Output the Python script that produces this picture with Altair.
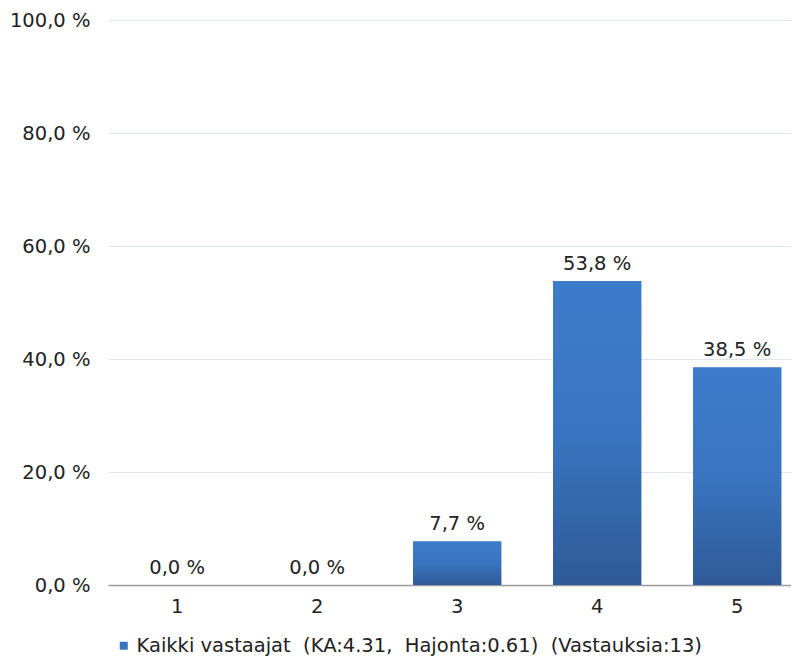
import altair as alt
import pandas as pd

categories = ["1", "2", "3", "4", "5"]
values = [0.0, 0.0, 7.7, 53.8, 38.5]
labels = ["0,0 %", "0,0 %", "7,7 %", "53,8 %", "38,5 %"]
series_name = "Kaikki vastaajat\u00a0\u00a0(KA:4.31,\u00a0\u00a0Hajonta:0.61)\u00a0\u00a0(Vastauksia:13)"
y_ticks = [0, 20, 40, 60, 80, 100]

df = pd.DataFrame({"cat": categories, "val": values, "lab": labels, "series": [series_name] * 5})

FONT = "DejaVu Sans"
FS = 19.5
TXT = "#222222"

x = alt.X("cat:N", sort=categories, title=None,
          scale=alt.Scale(paddingInner=0.37, paddingOuter=0.124, align=0.72),
          axis=alt.Axis(labelAngle=0, ticks=False, domainColor="#9a9a9a", domainWidth=1.5,
                        labelFont=FONT, labelFontSize=FS, labelColor=TXT, labelPadding=12, grid=False))
y = alt.Y("val:Q", title=None,
          scale=alt.Scale(domain=[0, 100], nice=False),
          axis=alt.Axis(values=y_ticks, domain=False, ticks=False, gridColor="#dfe5ef", gridWidth=1,
                        labelFont=FONT, labelFontSize=FS, labelColor=TXT, labelPadding=18,
                        labelExpr="replace(format(datum.value, '.1f'), '.', ',') + ' %'"))

legend_bar = alt.Chart(df).mark_bar().encode(
    x=x, y=y,
    color=alt.Color("series:N", scale=alt.Scale(range=["#3a74c0"]),
                    legend=alt.Legend(title=None, orient="none", legendX=6, legendY=616,
                                      symbolType="square", symbolSize=64, symbolStrokeWidth=0,
                                      labelFont=FONT, labelFontSize=FS, labelColor=TXT,
                                      labelLimit=800, labelOffset=3)),
)

grad = alt.Gradient(gradient="linear", x1=0, y1=0, x2=0, y2=1,
                    stops=[alt.GradientStop(color="#3d7ccb", offset=0),
                           alt.GradientStop(color="#3a74c0", offset=0.5),
                           alt.GradientStop(color="#2e5a97", offset=1)])

bars = alt.Chart(df).mark_bar(color=grad).encode(x=x, y=y)

text = alt.Chart(df).mark_text(baseline="alphabetic", dy=-11, font=FONT, fontSize=FS, color=TXT).encode(
    x=x, y=y, text="lab:N")

chart = alt.layer(legend_bar, bars, text).properties(
    width=683, height=565,
    background="white",
    autosize=alt.AutoSizeParams(type="none"),
    padding={"left": 100, "top": 12, "right": 0, "bottom": 71},
).configure_view(stroke=None)

chart.save("out.html", embed_options={"renderer": "svg", "actions": False})
